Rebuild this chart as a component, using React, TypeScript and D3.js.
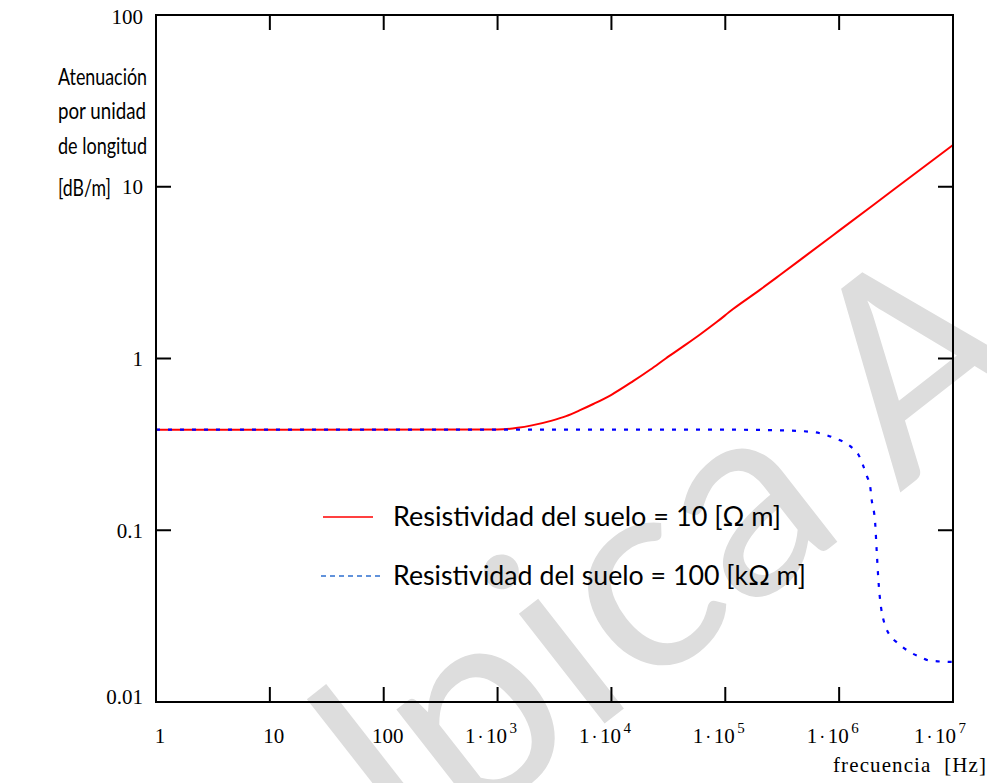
import React from "react";
import * as d3 from "d3";

// ---------- data ----------
const RED_FREQ = [1, 1000, 1500, 2000, 3000, 4000, 5300, 7000, 1e4, 1.55e4, 2.2e4, 3e4, 4.3e4, 6e4, 8.4e4, 1.17e5, 2e5, 3e5, 5e5, 1e6, 3e6, 1e7];
const RED_ATT = [0.385, 0.386, 0.395, 0.408, 0.435, 0.462, 0.5, 0.545, 0.615, 0.738, 0.863, 1.0, 1.18, 1.38, 1.63, 1.94, 2.5, 3.05, 3.93, 5.55, 9.6, 17.5];

const BLUE_FREQ = [1, 1e3, 1e5, 3e5, 5.9e5, 8.9e5, 1.25e6, 1.47e6, 1.75e6, 1.87e6, 1.93e6, 2.07e6, 2.14e6, 2.21e6, 2.44e6, 2.99e6, 3.2e6, 4.19e6, 5.13e6, 6.28e6, 1e7];
const BLUE_ATT = [0.385, 0.385, 0.385, 0.382, 0.373, 0.346, 0.309, 0.277, 0.207, 0.181, 0.151, 0.111, 0.0745, 0.0519, 0.0304, 0.0232, 0.0223, 0.0195, 0.0183, 0.0174, 0.0171];

const X_TICKS = [1, 10, 100, 1e3, 1e4, 1e5, 1e6, 1e7];
const X_TICK_BASES = ["1", "10", "100", "1·10", "1·10", "1·10", "1·10", "1·10"];
const X_TICK_EXPONENTS = ["", "", "", "3", "4", "5", "6", "7"];
const Y_TICKS = [0.01, 0.1, 1, 10, 100];
const Y_TICK_LABELS = ["0.01", "0.1", "1", "10", "100"];
const Y_TITLE_LINES = ["Atenuación", "por unidad", "de longitud", "[dB/m]"];
const X_TITLE = "frecuencia  [Hz]";
const LEGEND_LABELS = ["Resistividad del suelo = 10 [Ω m]", "Resistividad del suelo = 100 [kΩ m]"];
const WATERMARK = "Malpica A";

// ---------- layout ----------
const W = 987;
const H = 783;
const LEFT = 156;
const RIGHT = 953;
const TOP = 15;
const BOTTOM = 702;
const TICK = 15;
const SERIF = "'Liberation Serif', 'Times New Roman', serif";
const SANS = "Lato, 'Open Sans', sans-serif";

export default function App() {
  const x = d3.scaleLog().domain([1, 1e7]).range([LEFT, RIGHT]);
  const y = d3.scaleLog().domain([0.01, 100]).range([BOTTOM, TOP]);

  const red = RED_FREQ.map((f, i) => [f, RED_ATT[i]] as [number, number]);
  const blue = BLUE_FREQ.map((f, i) => [f, BLUE_ATT[i]] as [number, number]);
  const line = d3
    .line<[number, number]>()
    .x((d) => x(d[0]))
    .y((d) => y(d[1]))
    .curve(d3.curveMonotoneX);

  const titleWidths = [89, 88, 89, 53];
  const titleBaselines = [85, 119, 154, 196];
  const legendWidths = [388, 413];
  const legendY = [517, 576];

  return (
    <svg
      width={W}
      height={H}
      viewBox={`0 0 ${W} ${H}`}
      style={{ position: "fixed", left: 0, top: 0, background: "#fff" }}
    >
      <rect x={0} y={0} width={W} height={H} fill="#fff" />
      {/* watermark */}
      <text
        transform="translate(110,1110) rotate(-38)"
        fontFamily={SANS}
        fontSize={275}
        fill="#dddddd"
      >
        {WATERMARK}
      </text>

      {/* curves */}
      <path d={line(red) || ""} fill="none" stroke="#ff0000" strokeWidth={2} />
      <path
        d={line(blue) || ""}
        fill="none"
        stroke="#0000ff"
        strokeWidth={2.2}
        strokeDasharray="4 8"
      />

      {/* frame */}
      <rect
        x={LEFT}
        y={TOP}
        width={RIGHT - LEFT}
        height={BOTTOM - TOP}
        fill="none"
        stroke="#000"
        strokeWidth={2}
      />
      {/* x ticks */}
      {X_TICKS.map((t) => (
        <g key={"xt" + t}>
          <line x1={x(t)} x2={x(t)} y1={BOTTOM} y2={BOTTOM - TICK} stroke="#000" strokeWidth={2} />
          <line x1={x(t)} x2={x(t)} y1={TOP} y2={TOP + TICK} stroke="#000" strokeWidth={2} />
        </g>
      ))}
      {/* y ticks */}
      {Y_TICKS.map((t) => (
        <g key={"yt" + t}>
          <line x1={LEFT} x2={LEFT + TICK} y1={y(t)} y2={y(t)} stroke="#000" strokeWidth={2} />
          <line x1={RIGHT} x2={RIGHT - TICK} y1={y(t)} y2={y(t)} stroke="#000" strokeWidth={2} />
        </g>
      ))}

      {/* y tick labels */}
      {Y_TICKS.map((t, i) => {
        let cy = y(t);
        if (i === 0) cy -= 5;
        if (i === Y_TICKS.length - 1) cy += 2;
        return (
          <text
            key={"yl" + t}
            x={143}
            y={cy}
            dy="0.35em"
            textAnchor="end"
            fontFamily={SERIF}
            fontSize={21}
            fill="#000"
          >
            {Y_TICK_LABELS[i]}
          </text>
        );
      })}

      {/* x tick labels */}
      {X_TICKS.map((t, i) => {
        const exp = X_TICK_EXPONENTS[i];
        if (!exp) {
          return (
            <text
              key={"xl" + t}
              x={x(t) + 4}
              y={743}
              textAnchor="middle"
              fontFamily={SERIF}
              fontSize={21}
              fill="#000"
            >
              {X_TICK_BASES[i]}
            </text>
          );
        }
        const start = Math.min(x(t) - 32.5, 972 - 58);
        const parts = X_TICK_BASES[i].split("·");
        return (
          <text key={"xl" + t} x={start} y={743} fontFamily={SERIF} fontSize={21} fill="#000">
            <tspan>{parts[0]}</tspan>
            <tspan dx={2} fontSize={18}>·</tspan>
            <tspan dx={2.5}>{parts[1]}</tspan>
            <tspan dx={2.5} dy={-10} fontSize={15}>
              {exp}
            </tspan>
          </text>
        );
      })}

      {/* x title */}
      <text
        x={833}
        y={772}
        fontFamily={SERIF}
        fontSize={21}
        fill="#000"
        textLength={153}
        lengthAdjust="spacing"
        style={{ whiteSpace: "pre" }}
      >
        {X_TITLE}
      </text>

      {/* y title */}
      {Y_TITLE_LINES.map((s, i) => (
        <text
          key={"yt" + i}
          x={58}
          y={titleBaselines[i]}
          fontFamily={SANS}
          fontSize={23}
          fill="#000"
          textLength={titleWidths[i]}
          lengthAdjust="spacingAndGlyphs"
        >
          {s}
        </text>
      ))}

      {/* legend */}
      <line x1={323} x2={373} y1={legendY[0]} y2={legendY[0]} stroke="#ff0000" strokeWidth={1.5} />
      <line
        x1={321}
        x2={380}
        y1={legendY[1]}
        y2={legendY[1]}
        stroke="#2e6fd0"
        strokeWidth={1.3}
        strokeDasharray="5 4"
      />
      {LEGEND_LABELS.map((s, i) => (
        <text
          key={"lg" + i}
          x={393}
          y={legendY[i] + 9}
          fontFamily={SANS}
          fontSize={27}
          fill="#000"
          textLength={legendWidths[i]}
          lengthAdjust="spacingAndGlyphs"
        >
          {s}
        </text>
      ))}
    </svg>
  );
}
